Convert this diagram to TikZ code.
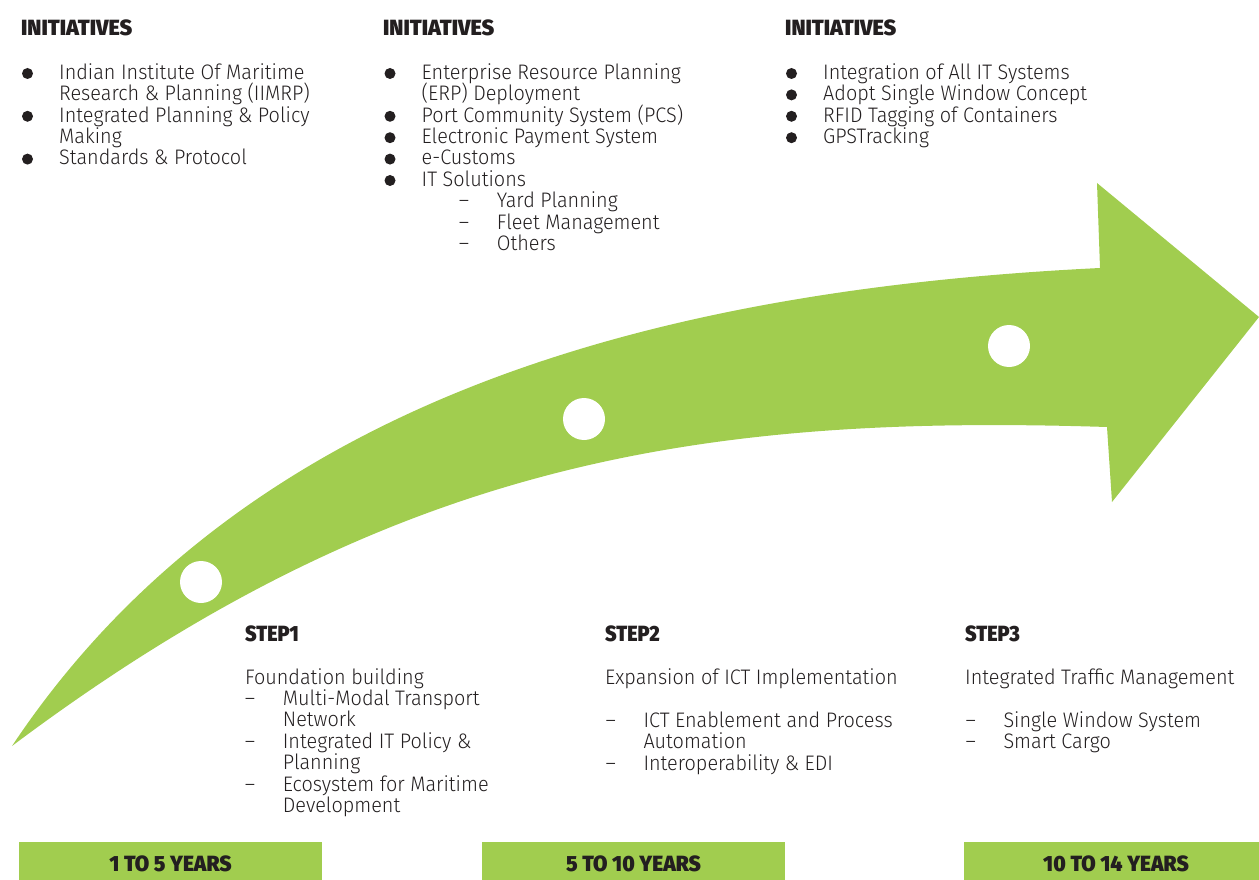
\documentclass[tikz,border=0pt]{standalone}
\usepackage{fontspec}
\IfFontExistsTF{Fira Sans Light}
 {\newfontfamily\bodyfont{Fira Sans Light}[FakeStretch=0.945]}
 {\newfontfamily\bodyfont{Liberation Sans}}
\IfFontExistsTF{Fira Sans Black}
 {\newfontfamily\headfont{Fira Sans Black}[FakeStretch=0.98]
  \newfontfamily\stepfont{Fira Sans Black}[FakeStretch=0.9]
  \newfontfamily\yearfont{Fira Sans Black}[FakeStretch=0.95]}
 {\newfontfamily\headfont{Liberation Sans}[UprightFont={* Bold},FakeStretch=0.9]
  \newfontfamily\stepfont{Liberation Sans}[UprightFont={* Bold},FakeStretch=0.9]
  \newfontfamily\yearfont{Liberation Sans}[UprightFont={* Bold},FakeStretch=0.9]}
\definecolor{arrowgreen}{RGB}{161,205,79}
\definecolor{ink}{RGB}{35,31,32}
\tikzset{
 body/.style={anchor=base west, inner sep=0pt, font=\bodyfont\fontsize{21}{21}\selectfont, text=ink},
 head/.style={anchor=base west, inner sep=0pt, font=\headfont\fontsize{22}{22}\selectfont, text=ink},
 stephead/.style={anchor=base west, inner sep=0pt, font=\stepfont\fontsize{22}{22}\selectfont, text=ink},
 dot/.style={circle, fill=ink, inner sep=0pt, minimum size=11pt},
 barbox/.style={fill=arrowgreen, draw=none},
 barlabel/.style={anchor=base, inner sep=0pt, font=\yearfont\fontsize{22}{22}\selectfont, text=ink},
 hole/.style={circle, fill=white, inner sep=0pt, minimum size=42pt},
}
\newcommand\bitem[4]{\node[dot] (#1-b) at (#2-31.5,#3-5.8) {}; \node[body] (#1) at (#2,#3) {#4};}
\newcommand\ditem[4]{\node[body] (#1-d) at (#2-38,#3) {–}; \node[body] (#1) at (#2,#3) {#4};}
\newcommand\pline[4]{\node[body] (#1) at (#2,#3) {#4};}
\begin{document}
\begin{tikzpicture}[x=1pt,y=-1pt]
\useasboundingbox (0,0) rectangle (1259,880);
% arrow
\fill[arrowgreen] (12,746) .. controls (242,401) and (650,290) .. (1100,268)
  -- (1097,183) -- (1259,317) -- (1112,502) -- (1107,427)
  .. controls (700,414) and (392,461) .. (12,746) -- cycle;
\node[hole] (s1) at (201,582) {};
\node[hole] (s2) at (584,419) {};
\node[hole] (s3) at (1009,346) {};
% headings
\node[head] (h1) at (21,36) {INITIATIVES};
\node[head] (h2) at (383,36) {INITIATIVES};
\node[head] (h3) at (785,36) {INITIATIVES};
% column 1
\bitem{a1}{59}{79.3}{Indian Institute Of Maritime}
\pline{a2}{59}{100.7}{Research \& Planning (IIMRP)}
\bitem{a3}{59}{122.1}{Integrated Planning \& Policy}
\pline{a4}{59}{143.5}{Making}
\bitem{a5}{59}{164.9}{Standards \& Protocol}
% column 2
\bitem{b1}{421.5}{79.3}{Enterprise Resource Planning}
\pline{b2}{421.5}{100.7}{(ERP) Deployment}
\bitem{b3}{421.5}{122.1}{Port Community System (PCS)}
\bitem{b4}{421.5}{143.5}{Electronic Payment System}
\bitem{b5}{421.5}{164.9}{e-Customs}
\bitem{b6}{421.5}{186.3}{IT Solutions}
\ditem{b7}{496.7}{207.7}{Yard Planning}
\ditem{b8}{496.7}{229.1}{Fleet Management}
\ditem{b9}{496.7}{250.5}{Others}
% column 3
\bitem{c1}{823}{79.3}{Integration of All IT Systems}
\bitem{c2}{823}{100.7}{Adopt Single Window Concept}
\bitem{c3}{823}{122.1}{RFID Tagging of Containers}
\bitem{c4}{823}{143.5}{GPSTracking}
% step 1
\node[stephead] (t1) at (245,641) {STEP1};
\pline{d0}{245}{684}{Foundation building}
\ditem{d1}{282.7}{705.4}{Multi-Modal Transport}
\pline{d2}{282.7}{726.8}{Network}
\ditem{d3}{282.7}{748.2}{Integrated IT Policy \&}
\pline{d4}{282.7}{769.6}{Planning}
\ditem{d5}{282.7}{791}{Ecosystem for Maritime}
\pline{d6}{282.7}{812.4}{Development}
% step 2
\node[stephead] (t2) at (605,641) {STEP2};
\pline{e0}{605}{684}{Expansion of ICT Implementation}
\ditem{e1}{643.3}{727.3}{ICT Enablement and Process}
\pline{e2}{643.3}{748.7}{Automation}
\ditem{e3}{643.3}{770.1}{Interoperability \& EDI}
% step 3
\node[stephead] (t3) at (965,641) {STEP3};
\pline{f0}{965}{684}{Integrated Traffic Management}
\ditem{f1}{1003.3}{727.3}{Single Window System}
\ditem{f2}{1003.3}{748.7}{Smart Cargo}
% bars
\fill[barbox] (19,842) rectangle (322,880);
\fill[barbox] (482,842) rectangle (785,880);
\fill[barbox] (964,842) rectangle (1259,880);
\node[barlabel] (y1) at (170.5,871.7) {1 TO 5 YEARS};
\node[barlabel] (y2) at (633.5,871.7) {5 TO 10 YEARS};
\node[barlabel] (y3) at (1116,871.7) {10 TO 14 YEARS};
\end{tikzpicture}
\end{document}
